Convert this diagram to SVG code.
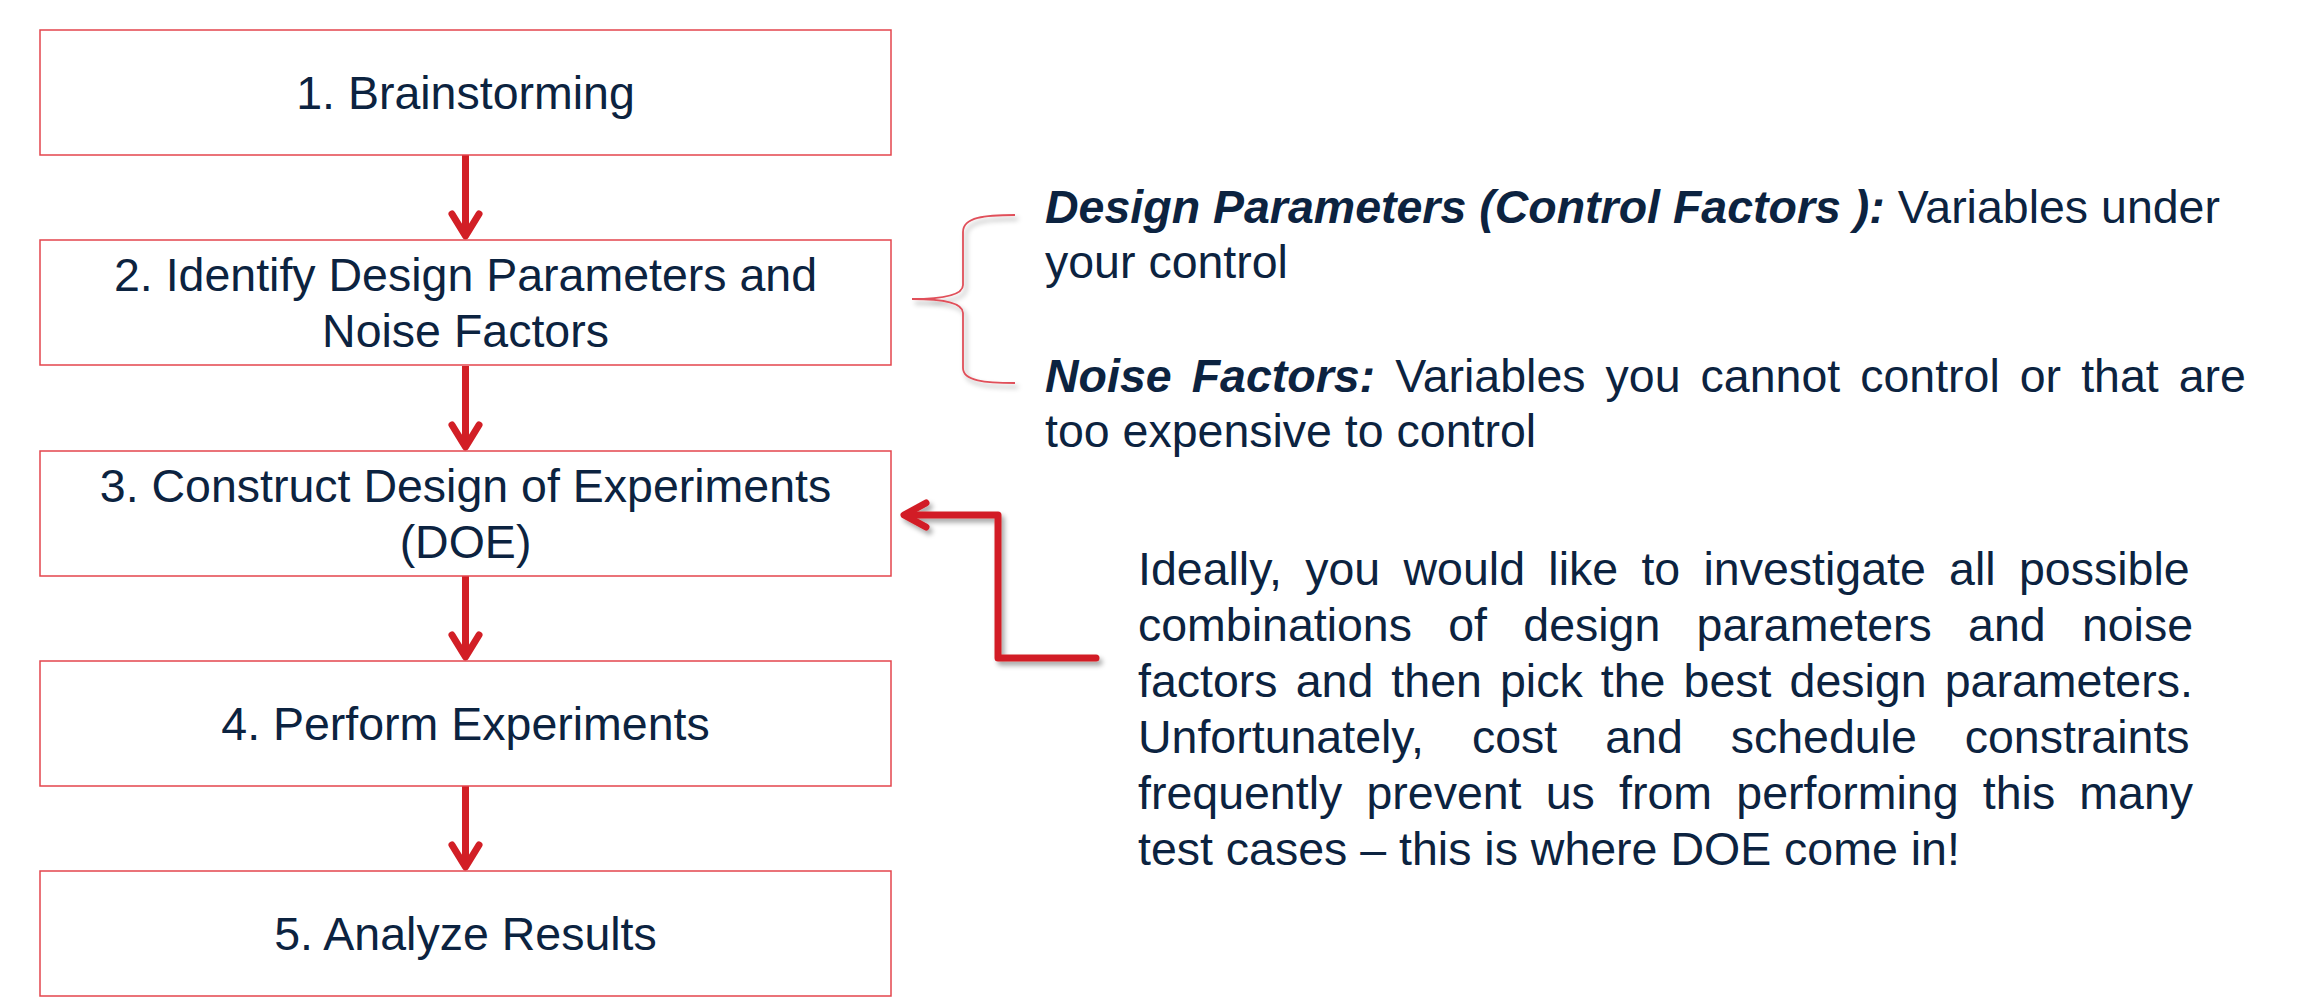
<svg xmlns="http://www.w3.org/2000/svg" width="2310" height="1003" viewBox="0 0 2310 1003">
<style>
.box{fill:#ffffff;stroke:#e4454d;stroke-width:1.5}
.t{font-family:"Liberation Sans",Arial,sans-serif;font-size:46.5px;fill:#0c2340}
.c{text-anchor:middle}
.bi{font-weight:bold;font-style:italic}
.conn{fill:none;stroke:#d21f26;stroke-width:7;stroke-linecap:round;stroke-linejoin:round}
.shaft{fill:none;stroke:#d21f26;stroke-width:7}
</style>
<defs>
<filter id="sh" x="-20%" y="-20%" width="140%" height="140%">
<feDropShadow dx="3" dy="4" stdDeviation="2.5" flood-color="#000" flood-opacity="0.35"/>
</filter>
</defs>
<rect width="2310" height="1003" fill="#ffffff"/>
<g id="connectors">
<g id="a12"><line class="shaft" x1="465.5" y1="155" x2="465.5" y2="234"/><path class="conn" d="M452,214 L465.5,236 L479,214"/></g>
<g id="a23"><line class="shaft" x1="465.5" y1="366" x2="465.5" y2="445"/><path class="conn" d="M452,425 L465.5,447 L479,425"/></g>
<g id="a34"><line class="shaft" x1="465.5" y1="576" x2="465.5" y2="655"/><path class="conn" d="M452,635 L465.5,657 L479,635"/></g>
<g id="a45"><line class="shaft" x1="465.5" y1="786" x2="465.5" y2="865"/><path class="conn" d="M452,845 L465.5,867 L479,845"/></g>
<g id="feedback" filter="url(#sh)">
<path class="conn" stroke-linecap="butt" stroke-linejoin="miter" d="M1096,658 L998,658 L998,515 L906,515"/>
<path class="conn" d="M926,503 L904,515 L926,527"/>
</g>
<path id="brace" filter="url(#sh)" fill="none" stroke="#e0505a" stroke-width="1.8" d="M1015,215 C985,215 963,217 963,232 L963,285 C963,296 940,299 912,299 C940,299 963,302 963,313 L963,368 C963,381 985,383 1015,383"/>
</g>
<g id="n1"><rect class="box" x="40" y="30" width="851" height="125"/><text class="t c" x="465.5" y="109">1. Brainstorming</text></g>
<g id="n2"><rect class="box" x="40" y="240" width="851" height="125"/><text class="t c" x="465.5" y="291">2. Identify Design Parameters and</text><text class="t c" x="465.5" y="347">Noise Factors</text></g>
<g id="n3"><rect class="box" x="40" y="451" width="851" height="125"/><text class="t c" x="465.5" y="502">3. Construct Design of Experiments</text><text class="t c" x="465.5" y="558">(DOE)</text></g>
<g id="n4"><rect class="box" x="40" y="661" width="851" height="125"/><text class="t c" x="465.5" y="740">4. Perform Experiments</text></g>
<g id="n5"><rect class="box" x="40" y="871" width="851" height="125"/><text class="t c" x="465.5" y="950">5. Analyze Results</text></g>
<g id="factors">
<text class="t" x="1045" y="223"><tspan class="bi">Design Parameters (Control Factors ):</tspan> Variables under</text>
<text class="t" x="1045" y="278">your control</text>
<text class="t" x="1045" y="392" word-spacing="7.1"><tspan class="bi">Noise Factors:</tspan> Variables you cannot control or that are</text>
<text class="t" x="1045" y="447">too expensive to control</text>
</g>
<g id="note">
<text class="t" x="1138" y="585" word-spacing="10.4">Ideally, you would like to investigate all possible</text>
<text class="t" x="1138" y="641" word-spacing="23.35">combinations of design parameters and noise</text>
<text class="t" x="1138" y="697" word-spacing="5.2">factors and then pick the best design parameters.</text>
<text class="t" x="1138" y="753" word-spacing="35">Unfortunately, cost and schedule constraints</text>
<text class="t" x="1138" y="809" word-spacing="11.3">frequently prevent us from performing this many</text>
<text class="t" x="1138" y="865">test cases – this is where DOE come in!</text>
</g>
</svg>
